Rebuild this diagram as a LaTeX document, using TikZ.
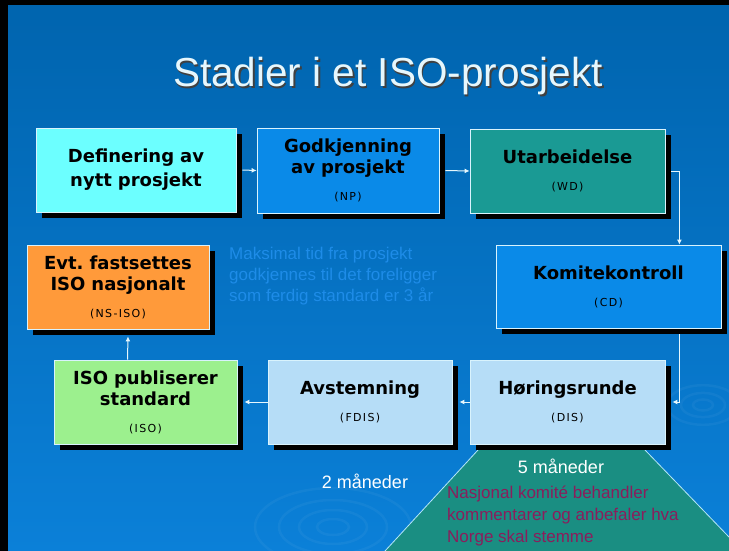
\documentclass[tikz,border=0pt]{standalone}
\usepackage{fontspec}
\setmainfont{Liberation Sans}
\newfontfamily\boxfont{DejaVu Sans}
\usetikzlibrary{arrows.meta, positioning}

\definecolor{bgtop}{HTML}{0064AE}
\definecolor{bgbot}{HTML}{0B80D8}
\definecolor{cyanbox}{HTML}{6CFFFF}
\definecolor{bluebox}{HTML}{0A8AE8}
\definecolor{tealbox}{HTML}{1A9A94}
\definecolor{orangebox}{HTML}{FF9A3A}
\definecolor{greenbox}{HTML}{9CF08E}
\definecolor{palebox}{HTML}{B6DDF7}
\definecolor{fanteal}{HTML}{1A8E82}
\definecolor{notemag}{HTML}{8A1E5C}
\definecolor{noteblue}{HTML}{1E8CE8}

\pgfdeclarelayer{slide}
\pgfdeclarelayer{shadow}
\pgfsetlayers{slide,shadow,main}

\newcommand{\abbr}[1]{\\[3pt]{\fontsize{11}{13}\selectfont\mdseries\addfontfeature{LetterSpace=12}#1}}

\tikzset{
  stage/.style={draw=white!85!cyan, line width=0.8pt, inner sep=0pt,
    align=center, text=black,
    font=\boxfont\bfseries\fontsize{18}{24}\selectfont},
  flow/.style={draw=white!90!cyan, line width=1pt, -{Latex[length=5pt,width=5pt]}},
  ripple/.style={draw=white, opacity=0.045, line width=2.5pt}
}

\begin{document}
\begin{tikzpicture}[x=1pt, y=-1pt]
  \useasboundingbox (0,0) rectangle (729,551);
  \begin{pgfonlayer}{slide}
    % slide background
    \shade[top color=bgtop, bottom color=bgbot] (0,0) rectangle (729,551);
    \fill[black] (0,0) rectangle (8,551);
    \fill[black] (0,0) rectangle (729,5);
    % ripples
    \begin{scope}
      \clip (8,5) rectangle (729,551);
      \foreach \r in {10,22,36}
        \draw[ripple] (703,405) ellipse ({\r} and {0.55*\r});
      \foreach \r in {16,34,54,78}
        \draw[ripple] (333,527) ellipse ({\r} and {0.5*\r});
    \end{scope}
    % fan under the DIS stage
    \fill[fanteal] (478,450) -- (645,450) -- (729,537) -- (729,551) -- (385,551) -- cycle;
    \draw[white!70!cyan, line width=0.8pt] (385,551) -- (478,450);
    \draw[white!70!cyan, line width=0.8pt] (645,450) -- (729,537);
  \end{pgfonlayer}

  % title
  \node (title) [anchor=base, font=\fontsize{40.5}{44}\selectfont] at (388,87)
    {\rlap{\hspace{1.6pt}\raisebox{-1.6pt}{\textcolor{black!75}{Stadier i et ISO-prosjekt}}}\textcolor{white!90!cyan}{Stadier i et ISO-prosjekt}};

  % stages
  \node (s1) [stage, fill=cyanbox, minimum width=200pt, minimum height=84pt, text width=192pt] at (136,170)
    {Definering av\\nytt prosjekt};
  \node (s2) [stage, fill=bluebox, minimum width=182pt, minimum height=85pt, text width=176pt] at (348,170.5)
    {Godkjenning\\[-3pt]av prosjekt\abbr{(NP)}};
  \node (s3) [stage, fill=tealbox, minimum width=195pt, minimum height=84pt, text width=188pt] at (567.5,171)
    {Utarbeidelse\abbr{(WD)}};
  \node (s4) [stage, fill=bluebox, minimum width=225pt, minimum height=83pt, text width=218pt] at (608.5,286.5)
    {Komitekontroll\abbr{(CD)}};
  \node (s5) [stage, fill=orangebox, minimum width=182pt, minimum height=84pt, text width=176pt] at (118,287)
    {Evt.\ fastsettes\\[-3pt]ISO nasjonalt\abbr{(NS-ISO)}};
  \node (s6) [stage, fill=greenbox, minimum width=183pt, minimum height=84pt, text width=177pt] at (145.5,402)
    {ISO publiserer\\[-3pt]standard\abbr{(ISO)}};
  \node (s7) [stage, fill=palebox, minimum width=184pt, minimum height=84pt, text width=178pt] at (360,402)
    {Avstemning\abbr{(FDIS)}};
  \node (s8) [stage, fill=palebox, minimum width=195pt, minimum height=84pt, text width=188pt] at (567.5,402)
    {Høringsrunde\abbr{(DIS)}};

  % shadows
  \begin{pgfonlayer}{shadow}
    \foreach \s in {s1,s2,s3,s4,s5,s6,s7,s8}
      \fill[black] ([shift={(6pt,-6pt)}]\s.north west) rectangle ([shift={(6pt,-6pt)}]\s.south east);
  \end{pgfonlayer}

  % notes
  \node (tid) [anchor=north west, inner sep=0pt, align=left, text=noteblue,
    font=\fontsize{17}{21}\selectfont] at (229,247)
    {Maksimal tid fra prosjekt\\godkjennes til det foreligger\\som ferdig standard er 3 år};
  \node (m2) [text=white, font=\fontsize{18}{22}\selectfont] at (365,481) {2 måneder};
  \node (m5) [text=white, font=\fontsize{18}{22}\selectfont] at (561,466) {5 måneder};
  \node (kom) [anchor=north west, inner sep=0pt, align=left, text=notemag,
    font=\fontsize{17}{22}\selectfont] at (447,486)
    {Nasjonal komité behandler\\kommentarer og anbefaler hva\\Norge skal stemme};

  % flow
  \draw[flow] ([xshift=6pt]s1.east) -- (s2.west);
  \draw[flow] ([xshift=6pt]s2.east) -- (s3.west);
  \draw[flow] ([xshift=6pt]s3.east) -| ([xshift=-42pt]s4.north east);
  \draw[flow] ([xshift=-42pt, yshift=-6pt]s4.south east) |- ([xshift=7pt]s8.east);
  \draw[flow] (s8.west) -- ([xshift=7pt]s7.east);
  \draw[flow] (s7.west) -- ([xshift=7pt]s6.east);
  \draw[flow] ([xshift=-18pt]s6.north) -- ([xshift=10pt, yshift=-7pt]s5.south);
\end{tikzpicture}
\end{document}
